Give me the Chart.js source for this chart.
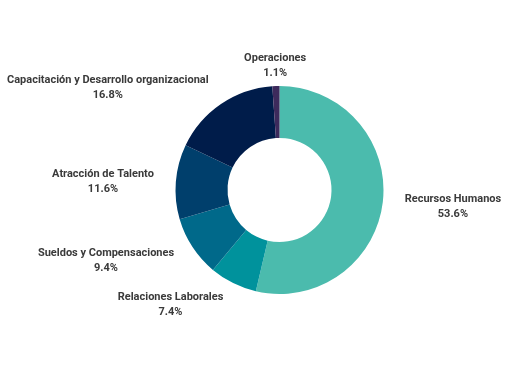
<!DOCTYPE html>
<html>
<head>
<meta charset="utf-8">
<script src="https://cdn.jsdelivr.net/npm/chart.js@4"></script>
<style>
html, body { margin: 0; padding: 0; background: #fff; }
#wrap { width: 512px; height: 384px; }
</style>
</head>
<body>
<div id="wrap"><canvas id="chart" width="512" height="384"></canvas></div>
<script>
const categories = ['Recursos Humanos', 'Relaciones Laborales', 'Sueldos y Compensaciones', 'Atracción de Talento', 'Capacitación y Desarrollo organizacional', 'Operaciones'];
const shares = [53.6, 7.4, 9.4, 11.6, 16.8, 1.1];
const colors = ['#4bbbad', '#00929c', '#00698a', '#003f6c', '#001c4a', '#3d2a5c'];

// etiquetas fuera del anillo
const outerLabels = {
    id: 'outerLabels',
    afterDraw(chart) {
        const ctx = chart.ctx;
        const meta = chart.getDatasetMeta(0);
        ctx.save();
        ctx.font = 'bold 11px Roboto';
        ctx.fillStyle = '#3a3a3a';
        ctx.textAlign = 'center';
        ctx.textBaseline = 'middle';
        meta.data.forEach((arc, i) => {
            const mid = (arc.startAngle + arc.endAngle) / 2;
            const dx = Math.cos(mid), dy = Math.sin(mid);
            const r = arc.outerRadius + 22;
            const name = categories[i];
            const val = shares[i].toFixed(1) + '%';
            const half = Math.max(ctx.measureText(name).width, ctx.measureText(val).width) / 2;
            let x = arc.x + dx * r;
            if (Math.abs(dx) > 0.1) x += Math.sign(dx) * half;
            const y = arc.y + dy * r + 2;
            ctx.fillText(name, x, y - 7.5);
            ctx.fillText(val, x, y + 7.5);
        });
        ctx.restore();
    }
};

new Chart(document.getElementById('chart').getContext('2d'), {
    type: 'doughnut',
    data: {
        labels: categories,
        datasets: [{ data: shares, backgroundColor: colors, borderWidth: 0 }]
    },
    options: {
        responsive: false,
        animation: false,
        cutout: '50%',
        layout: { padding: { top: 86, bottom: 90, left: 175, right: 128 } },
        plugins: { legend: { display: false }, tooltip: { enabled: false } }
    },
    plugins: [outerLabels]
});
</script>
</body>
</html>
